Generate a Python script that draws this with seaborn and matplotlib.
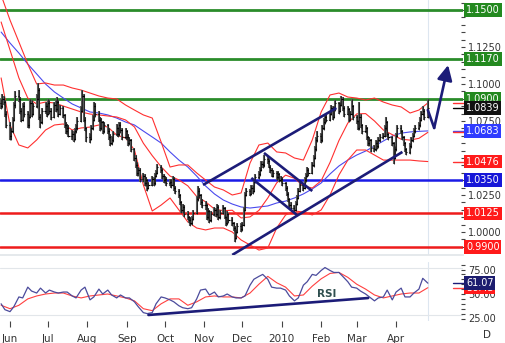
import numpy as np
import pandas as pd
import matplotlib
matplotlib.use("Agg")
import matplotlib.pyplot as plt
import matplotlib.dates as mdates
import seaborn as sns

sns.set_theme(style="white")
plt.rcParams["font.family"] = ["DejaVu Sans"]

# ---------------- data (pips above 1.0000) ----------------
first_open = 870
closes = [
    850, 900, 880, 800, 720, 650, 680, 760, 860, 920, 900, 820, 760, 850, 800,
    720, 780, 870, 800, 850, 900, 960, 780, 740, 820, 850, 800, 870, 820, 780,
    860, 830, 880, 800, 840, 790, 720, 680, 700, 650, 660, 630, 680, 700, 750,
    820, 920, 760, 700, 640, 630, 700, 760, 850, 800, 760, 700, 740, 680, 720,
    680, 640, 600, 620, 660, 700, 660, 720, 690, 640, 680, 640, 600, 620, 560,
    500, 450, 400, 420, 360, 380, 330, 350, 300, 320, 360, 330, 380, 400, 440,
    420, 380, 350, 360, 330, 340, 320, 360, 300, 280, 250, 200, 150, 170, 120,
    100, 80, 60, 90, 130, 220, 280, 250, 200, 180, 180, 100, 140, 80, 120,
    150, 120, 170, 100, 130, 160, 100, 60, 120, 80, 60, 30, -40, 0, 40,
    20, 50, 150, 250, 280, 260, 300, 280, 340, 370, 390, 420, 460, 450, 490,
    480, 440, 420, 380, 400, 370, 390, 350, 360, 330, 300, 260, 220, 180, 160,
    150, 190, 230, 280, 320, 300, 350, 380, 420, 400, 450, 500, 560, 620, 650,
    620, 700, 740, 780, 760, 800, 840, 780, 830, 870, 820, 860, 900, 840, 800,
    830, 760, 800, 850, 780, 750, 700, 780, 720, 680, 700, 640, 600, 620, 570,
    560, 600, 580, 620, 640, 650, 700, 740, 660, 640, 600, 500, 560, 650, 700,
    680, 640, 600, 560, 540, 580, 620, 650, 680, 700, 720, 760, 800, 820, 780,
    839]
highs = [
    900, 930, 920, 890, 820, 740, 700, 780, 880, 950, 960, 910, 840, 870, 880,
    820, 800, 900, 890, 870, 930, 1010, 970, 800, 840, 880, 870, 900, 890, 840,
    880, 890, 910, 890, 860, 850, 800, 740, 730, 720, 690, 680, 700, 730, 780,
    850, 960, 930, 780, 710, 670, 720, 790, 880, 870, 820, 780, 770, 750, 740,
    730, 700, 660, 650, 680, 730, 710, 740, 740, 700, 700, 690, 660, 640, 630,
    570, 520, 470, 440, 430, 400, 390, 370, 360, 340, 380, 370, 400, 420, 460,
    450, 430, 390, 380, 370, 360, 360, 380, 370, 310, 290, 260, 210, 190, 180,
    140, 110, 100, 110, 150, 240, 310, 300, 260, 220, 210, 190, 160, 150, 140,
    170, 160, 190, 180, 150, 180, 170, 110, 140, 130, 100, 70, 40, 20, 60,
    60, 70, 170, 270, 300, 290, 320, 320, 360, 390, 410, 440, 480, 480, 520,
    510, 490, 450, 430, 420, 410, 410, 400, 380, 370, 340, 310, 270, 230, 200,
    180, 210, 250, 300, 340, 330, 370, 400, 440, 430, 470, 520, 580, 640, 680,
    670, 720, 770, 800, 800, 820, 860, 850, 850, 890, 880, 880, 920, 910, 850,
    850, 840, 820, 900, 860, 790, 760, 880, 800, 730, 720, 710, 650, 640, 630,
    590, 620, 620, 640, 660, 670, 720, 780, 750, 670, 650, 610, 580, 670, 720,
    720, 690, 650, 610, 570, 600, 640, 670, 700, 720, 740, 780, 820, 850, 830,
    900]
lows = [
    830, 840, 860, 780, 700, 620, 620, 670, 750, 840, 880, 800, 740, 750, 780,
    700, 700, 770, 780, 790, 840, 890, 760, 700, 730, 800, 780, 790, 800, 760,
    770, 810, 820, 780, 790, 770, 700, 660, 660, 640, 620, 610, 620, 670, 690,
    740, 810, 740, 680, 610, 600, 620, 690, 750, 780, 740, 680, 690, 660, 670,
    660, 620, 580, 590, 610, 650, 640, 650, 670, 620, 630, 620, 580, 590, 540,
    480, 430, 380, 380, 340, 340, 310, 310, 280, 290, 310, 310, 320, 370, 390,
    400, 360, 330, 330, 310, 310, 300, 310, 280, 260, 230, 180, 130, 130, 100,
    80, 60, 40, 50, 80, 120, 210, 230, 180, 160, 150, 80, 90, 60, 70,
    110, 100, 110, 80, 90, 120, 90, 40, 50, 60, 40, 10, -70, -50, -10,
    0, 10, 40, 140, 240, 240, 250, 260, 270, 330, 360, 380, 410, 430, 440,
    460, 430, 400, 370, 370, 350, 360, 340, 340, 310, 280, 240, 200, 160, 140,
    130, 140, 180, 220, 270, 280, 290, 340, 370, 380, 390, 440, 490, 550, 610,
    600, 610, 690, 730, 740, 750, 790, 760, 770, 820, 800, 810, 850, 820, 780,
    790, 740, 750, 790, 760, 730, 690, 690, 700, 660, 670, 620, 580, 580, 540,
    540, 550, 560, 570, 610, 630, 640, 690, 640, 620, 580, 460, 490, 550, 640,
    660, 620, 580, 540, 520, 530, 570, 610, 640, 670, 690, 710, 750, 790, 760,
    770]

# weekly indicator readings (pips above 1.0000), Mondays from 2009-05-25
bb_upper = [1601, 1432, 1284, 1135, 1000, 1007, 993, 993, 973, 959, 939, 919, 905, 899,
            858, 824, 791, 770, 608, 439, 453, 453, 399, 351, 304, 284, 250, 264, 466,
            588, 601, 541, 534, 500, 486, 622, 811, 926, 939, 912, 905, 892, 905, 878,
            858, 845, 804, 824, 872]
bb_mid = [1419, 1230, 1041, 905, 865, 878, 872, 851, 831, 811, 797, 791, 784, 777, 757,
          710, 600, 516, 441, 378, 352, 312, 240, 204, 155, 144, 147, 95, 102, 146, 230,
          332, 384, 363, 311, 297, 346, 470, 618, 736, 798, 800, 750, 689, 658, 627, 621,
          633, 673]
bb_lower = [1041, 723, 588, 568, 622, 689, 723, 730, 689, 703, 709, 723, 709, 655, 635,
            554, 318, 142, 182, 230, 149, 68, 27, 14, 27, 27, 0, -54, -88, -122, -108, 27,
            115, 142, 135, 115, 149, 250, 385, 486, 554, 554, 520, 486, 486, 486, 486,
            480, 476]
ma_long = [1351, 1277, 1209, 1135, 1068, 1000, 946, 905, 865, 838, 811, 804, 791, 770,
           743, 723, 682, 642, 601, 541, 486, 439, 378, 311, 257, 216, 189, 169, 162, 169,
           176, 196, 209, 230, 257, 291, 331, 392, 446, 486, 520, 547, 581, 615, 649, 668,
           676, 680, 683]

# RSI readings: Monday and Thursday of each week, then last day
rsi = [40, 34, 32, 37, 47, 46, 57, 53, 51, 56, 51, 54, 52, 51, 52, 52, 48, 46, 54, 57,
       44, 47, 55, 50, 54, 49, 46, 49, 46, 46, 42, 37, 31, 30, 31, 40, 47, 46, 44, 42,
       38, 36, 35, 36, 45, 54, 55, 49, 52, 47, 48, 50, 47, 46, 46, 48, 59, 65, 68, 70,
       65, 57, 56, 56, 54, 48, 43, 46, 59, 62.5, 70, 69, 74, 77, 74, 72, 72, 68, 62.5, 57,
       56, 53, 50, 47, 43, 46, 47, 54, 44, 52, 56, 47, 47, 51, 55, 66, 61.07]
rsi_ma = [38.5, 35, 38.5, 45, 48, 50, 51, 51, 48, 46, 48, 49, 50, 48, 46, 43, 35, 33, 40,
          45, 45, 38.5, 42, 47, 48, 47, 47, 46, 51, 60, 68, 61.5, 57, 48, 49, 58, 65.5, 71,
          72, 67, 60, 55, 49, 46, 48, 50, 51, 51, 56.43]

# support / resistance levels
green_levels = [1.1500, 1.1170, 1.0900]
blue_levels = [1.0350]
red_levels = [1.0125, 0.9900]

# drawn trend lines (date, value)
chan_up_d, chan_up_v = ["2009-10-31", "2010-02-13"], [1.0318, 1.0838]
chan_lo_d, chan_lo_v = ["2009-11-23", "2010-04-06"], [0.9845, 1.0541]
desc1_d, desc1_v = ["2009-12-18", "2010-01-25"], [1.0534, 1.0277]
desc2_d, desc2_v = ["2009-12-08", "2010-01-13"], [1.0365, 1.0115]
proj_d, proj_v = ["2010-04-26", "2010-05-01", "2010-05-12"], [1.0824, 1.0703, 1.1128]
rsi_tr_d, rsi_tr_v = ["2009-09-18", "2010-03-10"], [28.6, 45.9]

month_dates = ["2009-06-01", "2009-07-01", "2009-08-01", "2009-09-01", "2009-10-01",
               "2009-11-01", "2009-12-01", "2010-01-01", "2010-02-01", "2010-03-01",
               "2010-04-01"]
month_labels = ["Jun", "Jul", "Aug", "Sep", "Oct", "Nov", "Dec", "2010", "Feb", "Mar", "Apr"]

# ---------------- derived ----------------
def px(v):
    return 1.0 + np.asarray(v, dtype=float) / 10000.0

days = pd.bdate_range("2009-05-25", "2010-04-26")
weeks = pd.date_range("2009-05-25", periods=len(bb_mid), freq="7D")
rsi_days = []
for w in weeks[:-1]:
    rsi_days += [w, w + pd.Timedelta(days=3)]
rsi_days.append(weeks[-1])

c = px(closes)
h = px(highs)
l = px(lows)
o = np.concatenate([[px(first_open)], c[:-1]])
xd = mdates.date2num(days)

NAVY = "#1c1c78"

# ---------------- figure ----------------
W, H = 505, 343
fig = plt.figure(figsize=(W / 100, H / 100), dpi=100)
fig.patch.set_facecolor("white")
ax = fig.add_axes([0, 1 - 255 / H, 463 / W, 255 / H])
axr = fig.add_axes([0, 1 - 321 / H, 463 / W, (321 - 262) / H], sharex=ax)

jun1 = mdates.date2num(pd.Timestamp("2009-06-01"))
x0 = jun1 - 10 / 1.27
x1 = jun1 + 453 / 1.27
ax.set_xlim(x0, x1)
ax.set_ylim(1.15 - 245 / 1480, 1.15 + 10 / 1480)
axr.set_ylim(50 - 27 / 0.98, 50 + 32 / 0.98)

# levels
for lv in green_levels:
    ax.axhline(lv, color="#2a8c2a", lw=2.0, zorder=1)
for lv in blue_levels:
    ax.axhline(lv, color="#1a1ae6", lw=1.8, zorder=1)
for lv in red_levels:
    ax.axhline(lv, color="#ee1c1c", lw=1.8, zorder=1)

last_day = days[-1]
for a in (ax, axr):
    a.axvline(mdates.date2num(last_day), color="#dde6f0", lw=0.8, zorder=0)

# indicators
sns.lineplot(x=weeks, y=px(ma_long), ax=ax, color="#4a4aee", lw=0.8, zorder=2)
for band in (bb_upper, bb_mid, bb_lower):
    sns.lineplot(x=weeks, y=px(band), ax=ax, color="#ff3030", lw=0.8, zorder=2)

# OHLC bars
ax.vlines(xd, l, h, color="#5a5a5a", lw=1.5, zorder=3)
ax.vlines(xd, l, h, color="#111111", lw=0.5, zorder=3)
ax.hlines(o, xd - 0.9, xd, color="#000000", lw=0.8, zorder=3)
ax.hlines(c, xd, xd + 0.9, color="#000000", lw=0.8, zorder=3)

# trend lines
for dd, vv in ((chan_up_d, chan_up_v), (chan_lo_d, chan_lo_v), (desc1_d, desc1_v), (desc2_d, desc2_v)):
    ax.plot(mdates.date2num(pd.to_datetime(dd)), vv, color=NAVY, lw=1.9, zorder=4, solid_capstyle="butt")
pdn = mdates.date2num(pd.to_datetime(proj_d))
ax.plot(pdn[:2], proj_v[:2], color=NAVY, lw=1.9, zorder=4)
ax.annotate("", xy=(pdn[2], proj_v[2]), xytext=(pdn[1], proj_v[1]),
            arrowprops=dict(arrowstyle="-|>,head_length=0.9,head_width=0.45", color=NAVY, lw=1.9,
                            shrinkA=0, shrinkB=0, mutation_scale=10), zorder=4)

# RSI
sns.lineplot(x=rsi_days, y=rsi, ax=axr, color="#4b4b9c", lw=0.9, zorder=3)
sns.lineplot(x=weeks, y=rsi_ma, ax=axr, color="#ff4040", lw=0.8, zorder=2)
axr.plot(mdates.date2num(pd.to_datetime(rsi_tr_d)), rsi_tr_v, color=NAVY, lw=1.9, zorder=4)
axr.text(mdates.date2num(pd.Timestamp("2010-02-05")), 50, "RSI", color="#2f4f4f",
         fontsize=7.5, fontweight="bold", ha="center", va="center", zorder=5)
for v in (76.5, 28.5):
    axr.axhline(v, color="#e2e6ea", lw=0.8, zorder=0)

# axes styling
for a in (ax, axr):
    for s in a.spines.values():
        s.set_visible(False)
    a.set_xlabel("")
    a.set_ylabel("")
    a.yaxis.tick_right()
    a.tick_params(axis="y", which="both", direction="inout", length=3, width=0.8,
                  colors="#444444", labelsize=7, pad=2, labelcolor="#333333", right=True)
ax.spines["bottom"].set_visible(True)
ax.spines["bottom"].set_color("#e2e6ea")

ax.set_yticks([1.0, 1.025, 1.075, 1.1, 1.125])
ax.set_yticklabels(["1.0000", "1.0250", "1.0750", "1.1000", "1.1250"])
ax.set_yticks(np.arange(0.99, 1.1551, 0.005), minor=True)
axr.set_yticks([25, 50, 75])
axr.set_yticklabels(["25.00", "50.00", "75.00"])
axr.set_yticks(np.arange(25, 81, 5), minor=True)
axr.set_ylim(50 - 27 / 0.98, 50 + 32 / 0.98)
ax.set_ylim(1.15 - 245 / 1480, 1.15 + 10 / 1480)

ax.tick_params(axis="x", bottom=False, labelbottom=False)
axr.set_xticks(mdates.date2num(pd.to_datetime(month_dates)))
axr.set_xticklabels(month_labels)
axr.tick_params(axis="x", bottom=True, direction="out", length=4, width=0.8, colors="#444444",
                labelsize=7.5, labelcolor="#333333", pad=5)
ax.set_xlim(x0, x1)

# right value tags
def tag(a, y, text, fc, z=10):
    a.text(1.0065, y, text, transform=a.get_yaxis_transform(), fontsize=7, color="white",
           va="center", ha="left", clip_on=False, zorder=z,
           bbox=dict(boxstyle="square,pad=0.18", fc=fc, ec="none"))

def marker(a, y, color):
    a.plot([0.978, 1.006], [y, y], transform=a.get_yaxis_transform(), color=color,
           lw=1.0, clip_on=False, zorder=9)

marker(ax, px(bb_upper[-1]), "#ff3030")
marker(ax, c[-1], "#000000")
marker(ax, px(ma_long[-1]), "#4a4aee")
marker(ax, px(bb_mid[-1]), "#ff3030")
marker(ax, px(bb_lower[-1]), "#ff3030")
marker(axr, rsi[-1], NAVY)
marker(axr, rsi_ma[-1], "#ff4040")

for lv in green_levels:
    tag(ax, lv, f"{lv:.4f}", "#23891f")
tag(ax, c[-1], f"{c[-1]:.4f}", "#111111", 11)
tag(ax, px(ma_long[-1]), f"{px(ma_long[-1]):.4f}", "#2f3cff")
tag(ax, px(bb_lower[-1]), f"{px(bb_lower[-1]):.4f}", "#ff1a1a")
for lv in blue_levels:
    tag(ax, lv, f"{lv:.4f}", "#1717d8")
for lv in red_levels:
    tag(ax, lv, f"{lv:.4f}", "#ff1a1a")
tag(axr, rsi_ma[-1], f"{rsi_ma[-1]:.2f}", "#ff1a1a", 10)
tag(axr, rsi[-1], f"{rsi[-1]:.2f}", "#1c1c6e", 11)

fig.text(487 / W, 1 - 335 / H, "D", fontsize=7.5, color="#333333", ha="center", va="center")

fig.savefig("out.png", dpi=100, facecolor="white")
